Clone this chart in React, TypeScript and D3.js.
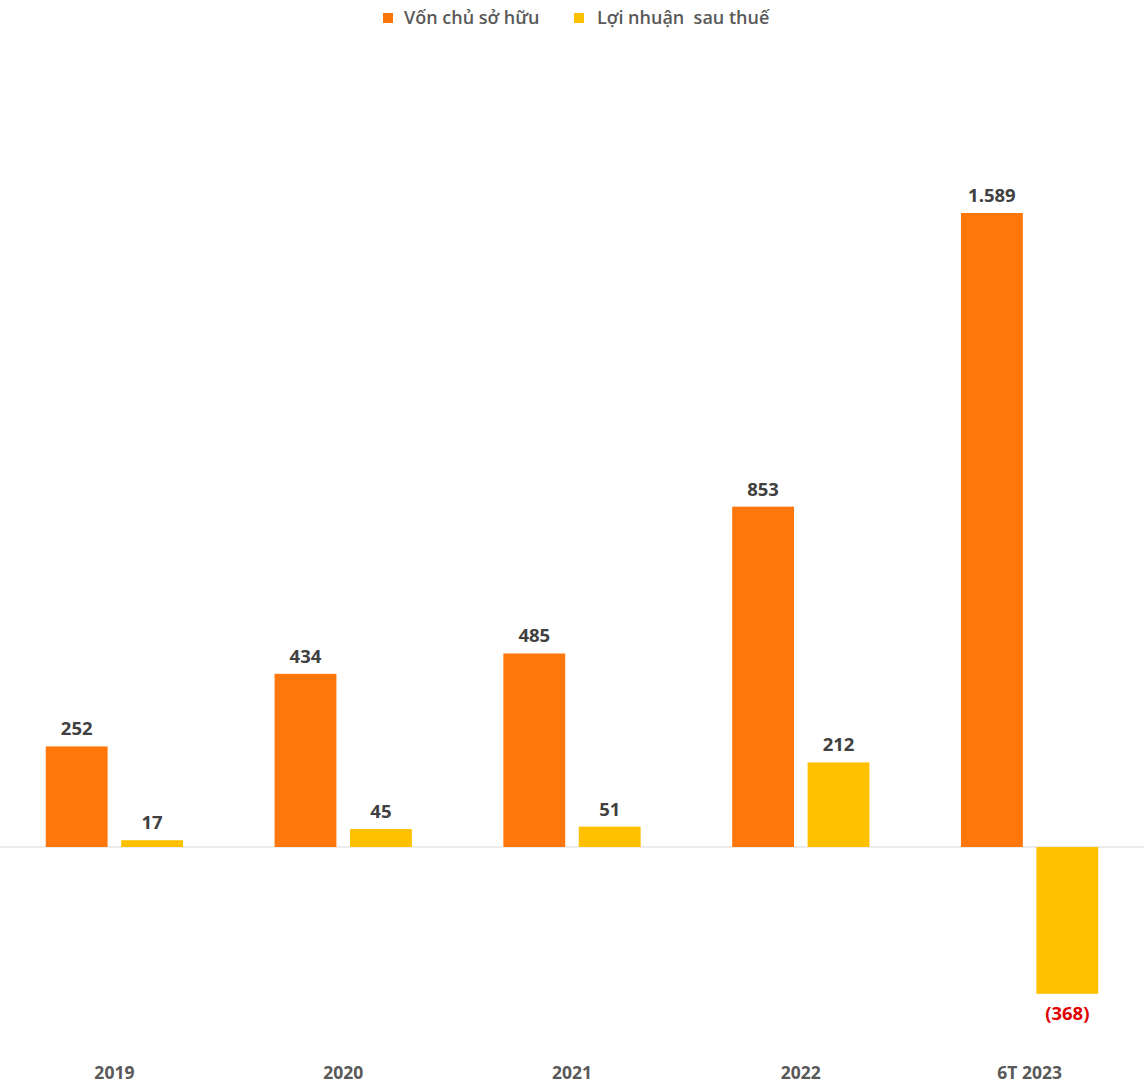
import * as d3 from "d3";

const categories = ["2019", "2020", "2021", "2022", "6T 2023"];
const series = ["Vốn chủ sở hữu", "Lợi nhuận  sau thuế"];
const vonChuSoHuu = [252, 434, 485, 853, 1589];
const loiNhuanSauThue = [17, 45, 51, 212, -368];
const colors = ["#FF760A", "#FFC000"];

const width = 1144;
const height = 1090;
const marginTop = 213;
const zeroY = 847;

const fmt = (v: number) => {
  const s = d3.format(",")(Math.abs(v)).replace(/,/g, ".");
  return v < 0 ? `(${s})` : s;
};

export default function App() {
  const x0 = d3.scaleBand<string>().domain(categories).range([0, width]).paddingInner(0.4).paddingOuter(0.2);
  const x1 = d3.scaleBand<string>().domain(series).range([0, x0.bandwidth()]).paddingInner(0.18);
  const y = d3.scaleLinear().domain([0, 1589]).range([zeroY, marginTop]);
  const values = [vonChuSoHuu, loiNhuanSauThue];
  const font = "'Open Sans', 'Segoe UI', sans-serif";

  return (
    <svg width={width} height={height} style={{ position: "absolute", left: 0, top: 0, background: "#fff" }} fontFamily={font}>
      <line x1={0} x2={width} y1={y(0)} y2={y(0)} stroke="#d9d9d9" strokeWidth={1} />
      {categories.map((c, i) => (
        <g key={c} transform={`translate(${x0(c)},0)`}>
          {series.map((s, j) => {
            const v = values[j][i];
            const top = y(Math.max(0, v));
            const h = Math.abs(y(v) - y(0));
            const bx = x1(s)!;
            const cx = bx + x1.bandwidth() / 2;
            return (
              <g key={s}>
                <rect x={bx} y={top} width={x1.bandwidth()} height={h} fill={colors[j]} />
                <text
                  x={cx}
                  y={v < 0 ? y(v) + 26 : y(v) - 11}
                  textAnchor="middle"
                  fontSize={18.5}
                  fontWeight={700}
                  fill={v < 0 ? "#E00000" : "#404040"}
                >
                  {fmt(v)}
                </text>
              </g>
            );
          })}
          <text x={x0.bandwidth() / 2} y={1079} textAnchor="middle" fontSize={17.5} fontWeight={700} fill="#595959">
            {c}
          </text>
        </g>
      ))}
      <g>
        <rect x={383} y={13} width={10} height={10} fill={colors[0]} />
        <text x={404} y={24} fontSize={18} fontWeight={600} fill="#595959">{series[0]}</text>
        <rect x={574} y={13} width={10} height={10} fill={colors[1]} />
        <text x={597} y={24} fontSize={18} fontWeight={600} fill="#595959" style={{ whiteSpace: "pre" }}>{series[1]}</text>
      </g>
    </svg>
  );
}
